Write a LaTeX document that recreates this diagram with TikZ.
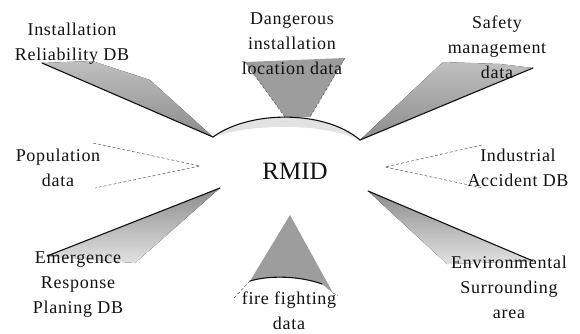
\documentclass[tikz,border=0pt]{standalone}
\usepackage{fontspec}
\setmainfont[LetterSpace=4]{Liberation Serif}
\usepackage{xcolor}
\usepackage{tikz}
\usetikzlibrary{calc}
\definecolor{ink}{HTML}{111111}
\definecolor{fandark}{HTML}{8C8C8C}
\definecolor{fanlight}{HTML}{E2E2E2}
\tikzset{
  rim/.style={draw=ink, line width=1.1pt, line cap=round, line join=round},
  fandown/.style={top color=fanlight!60!fandark, bottom color=fandark, draw=none},
  fanup/.style={top color=fandark, bottom color=fanlight, draw=none},
  fanmid/.style={fill=fandark!85, draw=none},
  fanlite/.style={fill=fanlight, draw=none},
  faint/.style={draw=ink!70, dashed, dash pattern=on 3pt off 2pt, line width=0.5pt},
  lab/.style={text=ink, font=\fontsize{18}{25}\selectfont, align=center, inner sep=0pt},
  hub/.style={text=ink, font=\fontsize{25}{30}\selectfont\addfontfeature{LetterSpace=0}, inner sep=0pt},
}
\begin{document}
\begin{tikzpicture}[x=1pt,y=-1pt]
  \useasboundingbox (0,0) rectangle (580,333);

  % where the fans meet the centre
  \coordinate (tipIR) at (213,137);
  \coordinate (tipSM) at (360,140);
  \coordinate (tipER) at (220,188);
  \coordinate (tipES) at (368,191);
  \coordinate (tipPD) at (200,166);
  \coordinate (tipIA) at (385,167);
  \coordinate (tipFF) at (290,215);

  % installation reliability
  \fill[fandown] (42,63) -- (92,61) -- (150,80) -- (tipIR) -- cycle;
  \draw[rim] (42,63) -- (tipIR);

  % dangerous installation location
  \fill[fanlite] (tipIR) .. controls (250,110) and (325,110) .. (tipSM)
    .. controls (320,122) and (250,124) .. (tipIR);
  \fill[fanmid] (245,62) -- (345,58) -- (310,117) -- (285,117) -- cycle;
  \draw[faint] (245,62) -- (285,117);
  \draw[faint] (345,58) -- (310,117);
  \draw[rim] (tipIR) .. controls (250,110) and (325,110) .. (tipSM);

  % safety management
  \fill[fandown] (tipSM) -- (443,62) -- (500,64) -- (533,68) -- cycle;
  \draw[rim] (tipSM) -- (533,68);

  % population
  \draw[faint] (93,143) -- (tipPD) -- (95,188);

  % industrial accident
  \draw[faint] (482,145) -- (tipIA) -- (483,188);

  % emergence response
  \fill[fanup] (tipER) -- (47,256) -- (135,263) -- cycle;
  \draw[rim] (tipER) -- (47,256);

  % environmental surrounding
  \fill[fanup] (tipES) -- (533,261) -- (447,264) -- cycle;
  \draw[rim] (tipES) -- (533,261);

  % fire fighting
  \fill[fanmid] (tipFF) -- (333,293) -- (322,284)
    .. controls (300,276) and (270,275) .. (250,281) -- cycle;
  \draw[rim] (250,281) .. controls (270,275) and (300,276) .. (322,284);
  \draw[faint] (250,281) -- (234,298);
  \draw[faint] (333,293) -- (338,296);

  \node[hub] (rmid) at (295,171) {RMID};
  \node[lab] (instdb) at (72,44) {Installation\\Reliability DB};
  \node[lab] (dangloc) at (292,44) {Dangerous\\installation\\location data};
  \node[lab] (safemgmt) at (497,47) {Safety\\management\\data};
  \node[lab] (popdata) at (58,168) {Population\\data};
  \node[lab] (indacc) at (518,168) {Industrial\\Accident DB};
  \node[lab] (emergdb) at (78,285) {Emergence\\Response\\Planing DB};
  \node[lab] (firedata) at (289,311) {fire fighting\\data};
  \node[lab] (envarea) at (509,287) {Environmental\\Surrounding\\area};
\end{tikzpicture}
\end{document}
